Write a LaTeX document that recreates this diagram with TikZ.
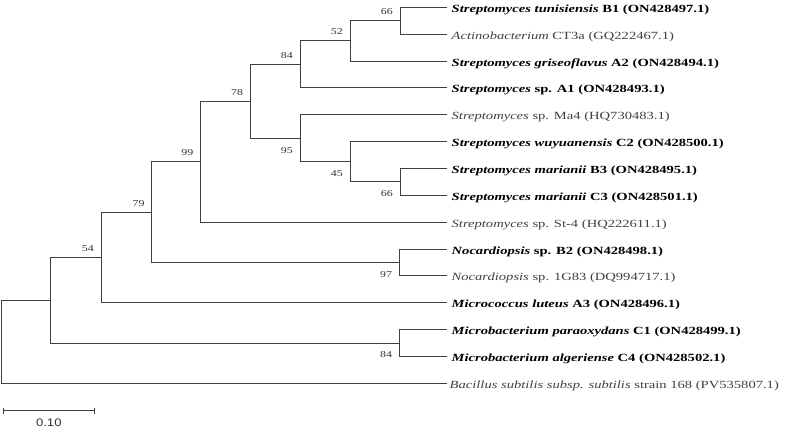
\documentclass[tikz,border=0pt]{standalone}
\usepackage{fontspec}
\usepackage{graphicx}
\setmainfont{Liberation Serif}
\newfontfamily\scalefont{Liberation Sans}
\newcommand\hstretch[1]{\scalebox{1.33}[1]{#1}}
\begin{document}
\begin{tikzpicture}[x=1bp,y=-1bp,
  branch/.style={draw=black!75,line width=0.9bp},
  taxon/.style={anchor=base west,inner sep=0pt,font=\fontsize{11}{13}\selectfont},
  refcol/.style={text=black!75},
  bold/.style={text=black,font=\fontsize{11}{13}\selectfont\bfseries},
  bsup/.style={anchor=base east,inner sep=0pt,font=\fontsize{9}{11}\selectfont,text=black!80},
  bslow/.style={anchor=base east,inner sep=0pt,font=\fontsize{9}{11}\selectfont,text=black!80}]
\useasboundingbox (0,0) rectangle (787,428);
% leaf ends
\coordinate (l1) at (447,7.3);
\coordinate (l2) at (447,34.16);
\coordinate (l3) at (447,61.01);
\coordinate (l4) at (447,87.87);
\coordinate (l5) at (447,114.73);
\coordinate (l6) at (447,141.59);
\coordinate (l7) at (447,168.44);
\coordinate (l8) at (447,195.30);
\coordinate (l9) at (447,222.16);
\coordinate (l10) at (447,249.01);
\coordinate (l11) at (447,275.87);
\coordinate (l12) at (447,302.73);
\coordinate (l13) at (447,329.58);
\coordinate (l14) at (447,356.44);
\coordinate (l15) at (447,383.30);
% internal nodes
\coordinate (n66a) at (400,20.73);
\coordinate (n52) at (350,40.87);
\coordinate (n84) at (300,64.37);
\coordinate (n66b) at (400,181.87);
\coordinate (n45) at (350,161.73);
\coordinate (n95) at (300,138.23);
\coordinate (n78) at (250.3,101.3);
\coordinate (n99) at (200.5,161.73);
\coordinate (n97) at (399.3,262.44);
\coordinate (n79) at (151.7,212.08);
\coordinate (n54) at (101,257.4);
\coordinate (n84b) at (399.3,343.01);
\coordinate (nA) at (50.7,300.2);
\coordinate (root) at (1.7,341.75);
% branches
\foreach \p/\c in {n66a/l1,n66a/l2,n52/n66a,n52/l3,n84/n52,n84/l4,
  n66b/l7,n66b/l8,n45/l6,n45/n66b,n95/l5,n95/n45,n78/n84,n78/n95,
  n99/n78,n99/l9,n97/l10,n97/l11,n79/n99,n79/n97,n54/n79,n54/l12,
  n84b/l13,n84b/l14,nA/n54,nA/n84b,root/nA,root/l15}
  \draw[branch] (\p) |- (\c);
% taxa
\node[taxon,bold] (t1) at ([xshift=4.5bp,yshift=-5bp]l1) {\hstretch{\textit{Streptomyces tunisiensis} B1 (ON428497.1)}};
\node[taxon,refcol] (t2) at ([xshift=4.5bp,yshift=-5bp]l2) {\hstretch{\textit{Actinobacterium} CT3a (GQ222467.1)}};
\node[taxon,bold] (t3) at ([xshift=4.5bp,yshift=-5bp]l3) {\hstretch{\textit{Streptomyces griseoflavus} A2 (ON428494.1)}};
\node[taxon,bold] (t4) at ([xshift=4.5bp,yshift=-5bp]l4) {\hstretch{\textit{Streptomyces} sp. A1 (ON428493.1)}};
\node[taxon,refcol] (t5) at ([xshift=4.5bp,yshift=-5bp]l5) {\hstretch{\textit{Streptomyces} sp. Ma4 (HQ730483.1)}};
\node[taxon,bold] (t6) at ([xshift=4.5bp,yshift=-5bp]l6) {\hstretch{\textit{Streptomyces wuyuanensis} C2 (ON428500.1)}};
\node[taxon,bold] (t7) at ([xshift=4.5bp,yshift=-5bp]l7) {\hstretch{\textit{Streptomyces marianii} B3 (ON428495.1)}};
\node[taxon,bold] (t8) at ([xshift=4.5bp,yshift=-5bp]l8) {\hstretch{\textit{Streptomyces marianii} C3 (ON428501.1)}};
\node[taxon,refcol] (t9) at ([xshift=4.5bp,yshift=-5bp]l9) {\hstretch{\textit{Streptomyces} sp. St-4 (HQ222611.1)}};
\node[taxon,bold] (t10) at ([xshift=4.5bp,yshift=-5bp]l10) {\hstretch{\textit{Nocardiopsis} sp. B2 (ON428498.1)}};
\node[taxon,refcol] (t11) at ([xshift=4.5bp,yshift=-5bp]l11) {\hstretch{\textit{Nocardiopsis} sp. 1G83 (DQ994717.1)}};
\node[taxon,bold] (t12) at ([xshift=4.5bp,yshift=-5bp]l12) {\hstretch{\textit{Micrococcus luteus} A3 (ON428496.1)}};
\node[taxon,bold] (t13) at ([xshift=4.5bp,yshift=-5bp]l13) {\hstretch{\textit{Microbacterium paraoxydans} C1 (ON428499.1)}};
\node[taxon,bold] (t14) at ([xshift=4.5bp,yshift=-5bp]l14) {\hstretch{\textit{Microbacterium algeriense} C4 (ON428502.1)}};
\node[taxon,refcol] (t15) at ([xshift=2.5bp,yshift=-5bp]l15) {\hstretch{\textit{Bacillus subtilis subsp. subtilis} strain 168 (PV535807.1)}};
% bootstrap values
\node[bsup] (b66a) at ([xshift=-7bp,yshift=6bp]n66a) {\hstretch{66}};
\node[bsup] (b52) at ([xshift=-7bp,yshift=6bp]n52) {\hstretch{52}};
\node[bsup] (b84) at ([xshift=-7bp,yshift=6bp]n84) {\hstretch{84}};
\node[bsup] (b78) at ([xshift=-7bp,yshift=6bp]n78) {\hstretch{78}};
\node[bsup] (b99) at ([xshift=-7bp,yshift=6bp]n99) {\hstretch{99}};
\node[bsup] (b79) at ([xshift=-7bp,yshift=6bp]n79) {\hstretch{79}};
\node[bsup] (b54) at ([xshift=-7bp,yshift=6bp]n54) {\hstretch{54}};
\node[bslow] (b95) at ([xshift=-7bp,yshift=-14.8bp]n95) {\hstretch{95}};
\node[bslow] (b45) at ([xshift=-7bp,yshift=-14.8bp]n45) {\hstretch{45}};
\node[bslow] (b66b) at ([xshift=-7bp,yshift=-14.8bp]n66b) {\hstretch{66}};
\node[bslow] (b97) at ([xshift=-7bp,yshift=-14.8bp]n97) {\hstretch{97}};
\node[bslow] (b84b) at ([xshift=-7bp,yshift=-14.8bp]n84b) {\hstretch{84}};
% scale bar
\coordinate (sb1) at (3.3,410.7);
\coordinate (sb2) at (94.3,410.7);
\draw[branch] (sb1) -- (sb2);
\draw[branch] ([yshift=-3bp]sb1) -- ([yshift=3bp]sb1);
\draw[branch] ([yshift=-3bp]sb2) -- ([yshift=3bp]sb2);
\node[anchor=base,inner sep=0pt,font=\scalefont\fontsize{11}{13}\selectfont,text=black!80] (sbl) at (48.8,426.3) {\scalebox{1.2}[1]{0.10}};
\end{tikzpicture}
\end{document}
